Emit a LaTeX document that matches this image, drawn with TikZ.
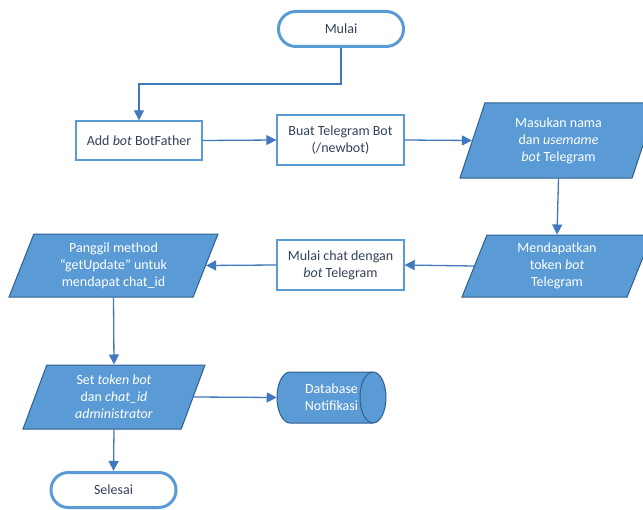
\documentclass[tikz,border=0pt]{standalone}
\usepackage{fontspec}
\setmainfont{Carlito}
\usetikzlibrary{shapes.geometric,arrows.meta}
\definecolor{lblue}{HTML}{5B9BD5}
\definecolor{dblue}{HTML}{2F5F8F}
\definecolor{lnblue}{HTML}{4178BE}
\definecolor{txt}{HTML}{33415A}
\newcommand{\px}{0.75pt}
\tikzset{
  base/.style={font=\fontsize{10.5}{12.8}\selectfont, align=center, inner sep=1pt},
  term/.style={base, draw=lblue, line width=3*\px, fill=white, text=txt, rounded corners=13pt,
     minimum width=125*\px, minimum height=35*\px},
  procbox/.style={base, draw=lblue, line width=1.4*\px, fill=white, text=txt},
  iobox/.style={base, trapezium, trapezium left angle=63, trapezium right angle=117,
     trapezium stretches body, draw=dblue, line width=1*\px, fill=lblue, text=white},
  conn/.style={draw=lnblue, line width=1.3*\px, -{Triangle[length=10*\px,width=10*\px]}},
  dbshape/.style={draw=dblue, line width=1*\px, fill=lblue},
}
\begin{document}
\begin{tikzpicture}[x=0.75pt,y=-0.75pt]
\useasboundingbox (0,0) rectangle (643,510);
% nodes
\node[term] (mulai) at (341,29) {Mulai};
\node[procbox, minimum width=126*\px, minimum height=39*\px] (add) at (139,140.5) {Add \textit{bot} BotFather};
\node[procbox, minimum width=127*\px, minimum height=50*\px] (buat) at (340.5,140) {Buat Telegram Bot\\(/newbot)};
\node[iobox, minimum width=197*\px, minimum height=75*\px] (masuk) at (558.5,140.5) {Masukan nama\\dan \textit{usemame}\\\textit{bot} Telegram};
\node[iobox, minimum width=190*\px, minimum height=62*\px] (dapat) at (557,266) {Mendapatkan\\token \textit{bot}\\Telegram};
\node[procbox, minimum width=127*\px, minimum height=50*\px] (chat) at (340.5,265) {Mulai chat dengan\\\textit{bot} Telegram};
\node[iobox, minimum width=209*\px, minimum height=63*\px] (panggil) at (113.5,265.5) {Panggil method\\“getUpdate” untuk\\mendapat chat\_id};
\node[iobox, minimum width=182*\px, minimum height=64*\px] (set) at (114,397) {Set \textit{token bot}\\dan \textit{chat\_id}\\\textit{administrator}};
% database
\draw[dbshape] (290,372) -- (373,372) arc[start angle=-90,end angle=90,x radius=13,y radius=25.5]
  -- (290,423) arc[start angle=90,end angle=270,x radius=13,y radius=25.5] -- cycle;
\draw[draw=dblue, line width=1*\px] (373,372) arc[start angle=270,end angle=90,x radius=13,y radius=25.5];
\node[base, text=white, minimum width=109*\px, minimum height=51*\px] (db) at (331.5,397.5) {Database\\Notifikasi};
\node[term] (selesai) at (113.5,490) {Selesai};
% connectors
\coordinate (bend1) at (341,84);
\draw[conn] (mulai.south) -- (bend1) -| (add.north);
\draw[conn] (add.east) -- (buat.west);
\draw[conn] (buat.east) -- (masuk.west);
\draw[conn] (masuk.south) -- (dapat.north);
\draw[conn] (dapat.west) -- (chat.east);
\draw[conn] (chat.west) -- (panggil.east);
\draw[conn] (panggil.south) -- (set.north);
\draw[conn] (set.east) -- (db.west);
\draw[conn] (set.south) -- (selesai.north);
\end{tikzpicture}
\end{document}
